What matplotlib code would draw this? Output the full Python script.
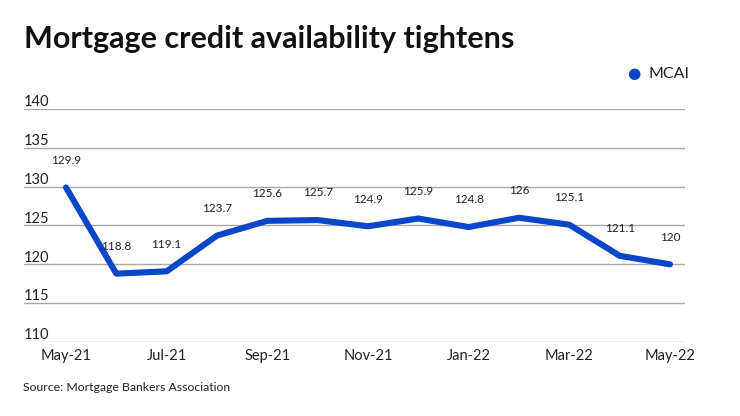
import matplotlib.pyplot as plt
import matplotlib.transforms as mtransforms

months = ["May-21", "Jun-21", "Jul-21", "Aug-21", "Sep-21", "Oct-21", "Nov-21",
          "Dec-21", "Jan-22", "Feb-22", "Mar-22", "Apr-22", "May-22"]
mcai = [129.9, 118.8, 119.1, 123.7, 125.6, 125.7, 124.9, 125.9, 124.8, 126, 125.1, 121.1, 120]
value_labels = ["129.9", "118.8", "119.1", "123.7", "125.6", "125.7", "124.9",
                "125.9", "124.8", "126", "125.1", "121.1", "120"]
y_ticks = [110, 115, 120, 125, 130, 135, 140]

plt.rcParams["font.family"] = ["Lato", "DejaVu Sans"]
blue = "#0a47c8"
grid = "#a8a8a8"

fig = plt.figure(figsize=(7.4, 4.16), dpi=100)
ax = fig.add_axes([24 / 740, 74 / 416, 661 / 740, 233 / 416])

x = list(range(len(months)))
ax.plot(x, mcai, color=blue, lw=4.4, solid_capstyle="round",
        solid_joinstyle="round", clip_on=False, zorder=3)

for xi, yi, lab in zip(x, mcai, value_labels):
    ax.annotate(lab, (xi, yi), xytext=(0, 17), textcoords="offset points",
                ha="center", va="baseline", fontsize=8.5, color="#222222")

ax.set_xlim(-0.834, 12.298)
ax.set_ylim(110, 140)
ax.set_yticks(y_ticks)
ax.yaxis.grid(True, color=grid, lw=1)
ax.tick_params(axis="y", length=0, labelleft=False)
trans = mtransforms.blended_transform_factory(ax.transAxes, ax.transData)
for t in y_ticks:
    ax.annotate(str(t), (0, t), xycoords=trans, xytext=(0, 2),
                textcoords="offset points", ha="left", va="baseline",
                fontsize=10.5, color="#222222")

ax.set_xticks(x[::2])
ax.set_xticklabels(months[::2], fontsize=10.5, color="#222222")
ax.tick_params(axis="x", length=0, pad=5)
for s in ax.spines.values():
    s.set_visible(False)
ax.set_axisbelow(True)

fig.text(24 / 740, 1 - 48 / 416, "Mortgage credit availability tightens",
         fontsize=22, fontweight="bold", color="#111111", ha="left", va="baseline")

fig.text(634 / 740, 1 - 74 / 416, "\u25CF", color=blue, fontsize=11,
         ha="center", va="center", family="DejaVu Sans")
fig.text(648 / 740, 1 - 74 / 416, "MCAI", color="#222222", fontsize=11.5,
         ha="left", va="center")

fig.text(23 / 740, 1 - 391 / 416, "Source: Mortgage Bankers Association",
         fontsize=8.8, color="#222222", ha="left", va="baseline")

fig.savefig("out.png", dpi=100)
